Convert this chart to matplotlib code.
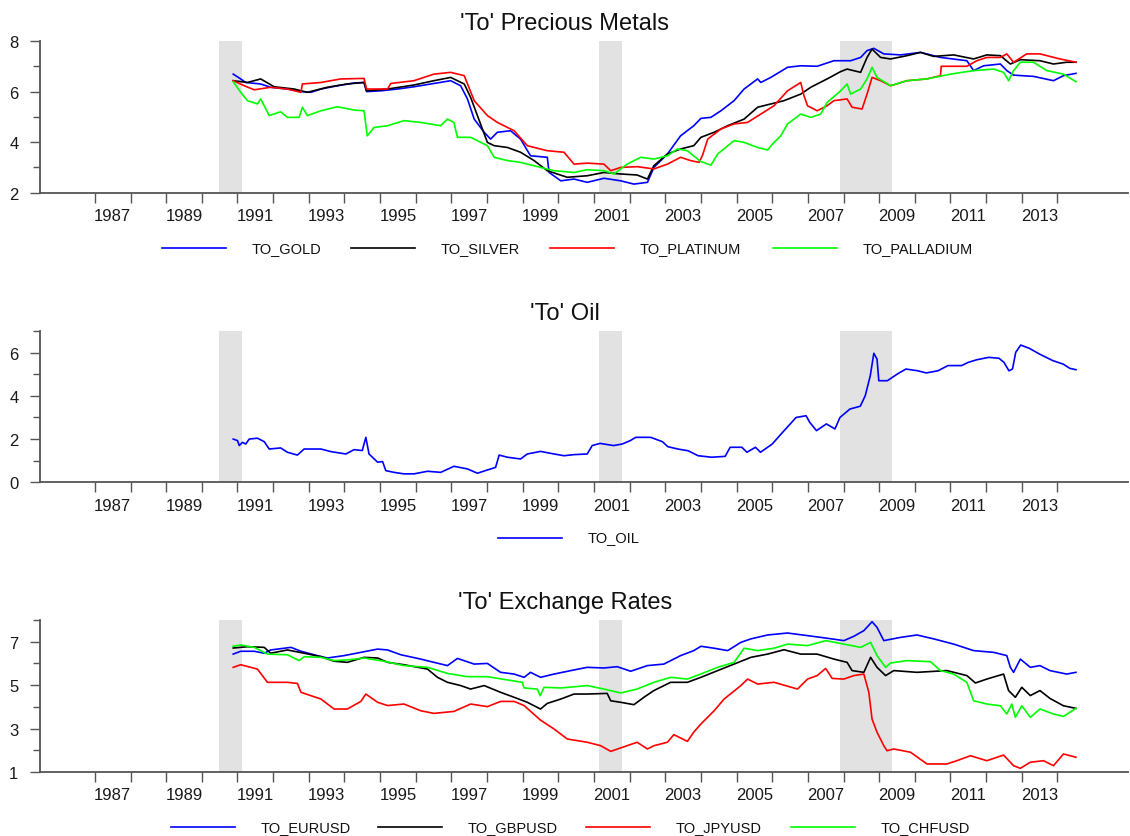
import matplotlib
matplotlib.use("Agg")
import matplotlib.pyplot as plt
from matplotlib.lines import Line2D
from matplotlib.ticker import FixedLocator, FuncFormatter

plt.rcParams['font.family'] = ['Liberation Sans', 'DejaVu Sans']

W, H = 1130, 837

# recession bands (decimal years)
recessions = [(1990.48, 1991.12), (2001.14, 2001.79), (2007.90, 2009.35)]

# ---- 'To' precious metals ----
gold_x = [1990.88, 1991.09, 1991.23, 1991.65, 1991.93, 1992.40, 1992.78, 1993.06, 1993.34, 1993.80,
          1994.27, 1994.55, 1994.62, 1995.02, 1995.49, 1995.95, 1996.51, 1996.98, 1997.26, 1997.45,
          1997.64, 1997.92, 1998.10, 1998.29, 1998.66, 1998.94, 1999.22, 1999.69, 1999.74, 2000.07,
          2000.44, 2000.81, 2001.28, 2001.75, 2002.12, 2002.50, 2002.68, 2003.06, 2003.43, 2003.80,
          2004.00, 2004.28, 2004.56, 2004.93, 2005.21, 2005.59, 2005.68, 2005.96, 2006.43, 2006.80,
          2007.26, 2007.73, 2008.20, 2008.48, 2008.66, 2008.85, 2009.13, 2009.60, 2010.16, 2010.72,
          2011.46, 2011.65, 2011.93, 2012.40, 2012.58, 2012.77, 2013.33, 2013.89, 2014.17, 2014.52]
gold_y = [6.69, 6.50, 6.36, 6.30, 6.17, 6.10, 6.00, 5.97, 6.10, 6.23,
          6.34, 6.36, 6.00, 6.03, 6.10, 6.19, 6.32, 6.43, 6.23, 5.71,
          4.91, 4.39, 4.12, 4.39, 4.45, 4.12, 3.46, 3.40, 2.80, 2.47,
          2.54, 2.41, 2.57, 2.47, 2.34, 2.41, 3.00, 3.53, 4.25, 4.65,
          4.94, 4.98, 5.24, 5.64, 6.10, 6.50, 6.36, 6.56, 6.96, 7.02,
          7.00, 7.22, 7.22, 7.35, 7.62, 7.71, 7.49, 7.45, 7.55, 7.35,
          7.22, 6.83, 7.02, 7.09, 6.83, 6.65, 6.60, 6.43, 6.63, 6.72]

silver_x = [1990.88, 1991.28, 1991.65, 1992.03, 1992.59, 1992.96, 1993.52, 1994.08, 1994.55, 1994.62,
            1995.21, 1995.95, 1996.51, 1996.98, 1997.36, 1997.54, 1997.73, 1998.01, 1998.20, 1998.57,
            1998.94, 1999.32, 1999.69, 2000.25, 2000.81, 2001.28, 2001.75, 2002.21, 2002.50, 2002.68,
            2003.06, 2003.43, 2003.80, 2004.00, 2004.37, 2004.75, 2005.21, 2005.59, 2005.96, 2006.33,
            2006.80, 2007.08, 2007.54, 2007.92, 2008.10, 2008.48, 2008.66, 2008.80, 2009.04, 2009.32,
            2009.78, 2010.16, 2010.53, 2011.09, 2011.65, 2012.02, 2012.40, 2012.68, 2012.96, 2013.51,
            2013.89, 2014.26, 2014.52]
silver_y = [6.43, 6.36, 6.50, 6.19, 6.10, 5.97, 6.17, 6.30, 6.36, 6.03,
            6.10, 6.26, 6.43, 6.56, 6.30, 5.77, 5.05, 3.99, 3.86, 3.79,
            3.60, 3.27, 2.87, 2.61, 2.67, 2.80, 2.74, 2.70, 2.54, 3.07,
            3.53, 3.73, 3.86, 4.19, 4.39, 4.65, 4.91, 5.38, 5.51, 5.64,
            5.90, 6.17, 6.50, 6.79, 6.89, 6.76, 7.35, 7.68, 7.35, 7.29,
            7.42, 7.55, 7.39, 7.45, 7.29, 7.45, 7.42, 7.09, 7.26, 7.22,
            7.09, 7.16, 7.16]

platinum_x = [1990.88, 1991.19, 1991.47, 1991.93, 1992.40, 1992.78, 1992.82, 1993.34, 1993.90, 1994.55,
              1994.62, 1995.21, 1995.30, 1995.95, 1996.51, 1996.98, 1997.36, 1997.64, 1998.01, 1998.29,
              1998.76, 1999.13, 1999.69, 2000.16, 2000.44, 2000.81, 2001.28, 2001.47, 2001.75, 2002.21,
              2002.68, 2003.06, 2003.43, 2003.71, 2003.95, 2004.05, 2004.19, 2004.56, 2004.93, 2005.31,
              2005.68, 2006.05, 2006.43, 2006.80, 2006.89, 2006.99, 2007.26, 2007.54, 2007.73, 2008.10,
              2008.24, 2008.52, 2008.66, 2008.80, 2009.04, 2009.32, 2009.78, 2010.34, 2010.72, 2010.74,
              2011.46, 2011.74, 2012.02, 2012.40, 2012.58, 2012.77, 2013.14, 2013.51, 2014.07, 2014.52]
platinum_y = [6.43, 6.23, 6.07, 6.17, 6.10, 5.97, 6.30, 6.36, 6.50, 6.52,
              6.10, 6.10, 6.32, 6.43, 6.69, 6.76, 6.63, 5.64, 5.05, 4.78,
              4.45, 3.86, 3.66, 3.60, 3.13, 3.17, 3.13, 2.87, 3.00, 3.03,
              2.94, 3.13, 3.40, 3.27, 3.20, 3.50, 4.12, 4.52, 4.72, 4.78,
              5.11, 5.44, 6.03, 6.36, 5.84, 5.44, 5.24, 5.44, 5.64, 5.71,
              5.38, 5.31, 5.90, 6.56, 6.43, 6.23, 6.43, 6.50, 6.63, 7.00,
              7.00, 7.22, 7.35, 7.35, 7.49, 7.16, 7.49, 7.49, 7.29, 7.16]

palladium_x = [1990.88, 1991.09, 1991.28, 1991.56, 1991.65, 1991.89, 1992.21, 1992.40, 1992.73, 1992.82,
               1992.96, 1993.34, 1993.80, 1994.27, 1994.55, 1994.64, 1994.83, 1995.21, 1995.67, 1996.14,
               1996.70, 1996.89, 1997.07, 1997.17, 1997.54, 1998.01, 1998.20, 1998.57, 1998.94, 1999.50,
               1999.88, 2000.44, 2000.81, 2001.28, 2001.56, 2001.93, 2002.31, 2002.68, 2003.06, 2003.34,
               2003.62, 2003.80, 2004.00, 2004.28, 2004.47, 2004.93, 2005.21, 2005.59, 2005.87, 2006.01,
               2006.24, 2006.43, 2006.80, 2007.08, 2007.36, 2007.54, 2007.92, 2008.10, 2008.20, 2008.48,
               2008.66, 2008.80, 2008.94, 2009.32, 2009.78, 2010.34, 2011.00, 2011.65, 2012.21, 2012.49,
               2012.63, 2012.77, 2012.96, 2013.33, 2013.70, 2014.17, 2014.52]
palladium_y = [6.39, 5.97, 5.64, 5.51, 5.71, 5.05, 5.20, 4.98, 4.98, 5.38,
               5.05, 5.24, 5.40, 5.27, 5.24, 4.25, 4.58, 4.65, 4.85, 4.78,
               4.65, 4.91, 4.78, 4.19, 4.19, 3.86, 3.40, 3.27, 3.20, 3.00,
               2.87, 2.80, 2.91, 2.87, 2.74, 3.13, 3.40, 3.33, 3.46, 3.73,
               3.66, 3.45, 3.23, 3.09, 3.53, 4.06, 3.99, 3.79, 3.69, 3.93,
               4.25, 4.72, 5.11, 4.98, 5.11, 5.57, 6.03, 6.30, 5.90, 6.10,
               6.50, 6.96, 6.56, 6.23, 6.43, 6.50, 6.69, 6.83, 6.89, 6.76,
               6.43, 6.83, 7.16, 7.16, 6.83, 6.69, 6.39]

# ---- 'To' oil ----
oil_x = [1990.88, 1991.00, 1991.05, 1991.14, 1991.23, 1991.33, 1991.56, 1991.75, 1991.89, 1992.21,
         1992.40, 1992.68, 1992.87, 1993.34, 1993.62, 1994.04, 1994.27, 1994.50, 1994.60, 1994.69,
         1994.93, 1995.07, 1995.16, 1995.39, 1995.67, 1995.95, 1996.33, 1996.70, 1997.07, 1997.45,
         1997.73, 1998.01, 1998.24, 1998.34, 1998.57, 1998.94, 1999.13, 1999.50, 1999.88, 2000.16,
         2000.44, 2000.81, 2000.95, 2001.17, 2001.55, 2001.79, 2002.02, 2002.17, 2002.59, 2002.92,
         2003.07, 2003.35, 2003.64, 2003.92, 2004.30, 2004.68, 2004.82, 2005.15, 2005.29, 2005.53,
         2005.67, 2006.00, 2006.29, 2006.67, 2006.95, 2007.05, 2007.24, 2007.52, 2007.76, 2007.90,
         2008.18, 2008.47, 2008.61, 2008.75, 2008.85, 2008.94, 2008.99, 2009.23, 2009.51, 2009.75,
         2010.08, 2010.32, 2010.65, 2010.93, 2011.31, 2011.50, 2011.74, 2012.07, 2012.36, 2012.50,
         2012.64, 2012.74, 2012.83, 2012.97, 2013.21, 2013.49, 2013.87, 2014.16, 2014.35, 2014.52]
oil_y = [2.00, 1.93, 1.70, 1.85, 1.77, 2.00, 2.04, 1.88, 1.54, 1.59,
         1.39, 1.26, 1.54, 1.54, 1.42, 1.31, 1.51, 1.47, 2.08, 1.31,
         0.93, 0.96, 0.54, 0.46, 0.39, 0.39, 0.51, 0.46, 0.74, 0.62,
         0.42, 0.57, 0.69, 1.26, 1.16, 1.08, 1.31, 1.43, 1.31, 1.23,
         1.28, 1.31, 1.70, 1.80, 1.70, 1.77, 1.93, 2.08, 2.08, 1.88,
         1.65, 1.54, 1.46, 1.23, 1.16, 1.20, 1.62, 1.62, 1.39, 1.62,
         1.39, 1.77, 2.31, 3.00, 3.08, 2.78, 2.39, 2.70, 2.47, 3.00,
         3.39, 3.52, 4.01, 4.93, 5.97, 5.70, 4.70, 4.70, 5.01, 5.24,
         5.16, 5.06, 5.16, 5.40, 5.40, 5.55, 5.67, 5.78, 5.74, 5.55,
         5.16, 5.24, 6.01, 6.35, 6.20, 5.94, 5.63, 5.47, 5.27, 5.21]

# ---- 'To' exchange rates ----
eur_x = [1990.88, 1991.09, 1991.47, 1991.75, 1991.93, 1992.50, 1992.78, 1993.24, 1993.52, 1993.99,
         1994.46, 1994.93, 1995.21, 1995.58, 1996.14, 1996.51, 1996.89, 1997.17, 1997.64, 1998.01,
         1998.38, 1998.76, 1999.04, 1999.22, 1999.50, 1999.88, 2000.35, 2000.81, 2001.28, 2001.65,
         2002.03, 2002.50, 2002.96, 2003.43, 2003.80, 2004.00, 2004.37, 2004.75, 2005.12, 2005.40,
         2005.87, 2006.43, 2006.99, 2007.54, 2008.01, 2008.29, 2008.57, 2008.80, 2008.94, 2009.13,
         2009.60, 2010.06, 2010.53, 2011.09, 2011.65, 2012.21, 2012.58, 2012.68, 2012.77, 2012.96,
         2013.24, 2013.51, 2013.79, 2014.26, 2014.52]
eur_y = [6.43, 6.56, 6.56, 6.47, 6.62, 6.74, 6.56, 6.36, 6.25, 6.36,
         6.51, 6.66, 6.62, 6.40, 6.20, 6.05, 5.90, 6.23, 5.97, 6.00,
         5.59, 5.51, 5.36, 5.59, 5.36, 5.51, 5.67, 5.82, 5.79, 5.85,
         5.64, 5.90, 5.97, 6.36, 6.59, 6.79, 6.70, 6.59, 6.97, 7.13,
         7.31, 7.40, 7.28, 7.16, 7.05, 7.25, 7.51, 7.92, 7.66, 7.05,
         7.20, 7.31, 7.13, 6.89, 6.59, 6.51, 6.36, 5.82, 5.59, 6.20,
         5.82, 5.90, 5.67, 5.51, 5.59]

gbp_x = [1990.88, 1991.28, 1991.75, 1991.93, 1992.40, 1992.87, 1993.34, 1993.71, 1994.08, 1994.55,
         1994.93, 1995.21, 1995.67, 1996.33, 1996.61, 1996.89, 1997.26, 1997.54, 1997.92, 1998.38,
         1998.76, 1999.13, 1999.50, 1999.69, 2000.07, 2000.44, 2000.81, 2001.37, 2001.47, 2001.75,
         2002.12, 2002.40, 2002.68, 2003.15, 2003.62, 2004.00, 2004.47, 2004.93, 2005.40, 2005.87,
         2006.33, 2006.80, 2007.26, 2007.73, 2008.10, 2008.24, 2008.57, 2008.76, 2008.94, 2009.18,
         2009.41, 2010.06, 2010.90, 2011.46, 2011.70, 2012.02, 2012.49, 2012.63, 2012.82, 2013.00,
         2013.24, 2013.51, 2013.79, 2014.17, 2014.52]
gbp_y = [6.71, 6.77, 6.74, 6.47, 6.62, 6.47, 6.31, 6.10, 6.05, 6.28,
         6.25, 6.05, 5.94, 5.74, 5.36, 5.13, 4.98, 4.82, 4.98, 4.67,
         4.44, 4.21, 3.90, 4.16, 4.36, 4.59, 4.59, 4.62, 4.28, 4.21,
         4.10, 4.44, 4.75, 5.13, 5.13, 5.36, 5.67, 5.97, 6.28, 6.43,
         6.63, 6.43, 6.43, 6.20, 6.05, 5.67, 5.59, 6.28, 5.82, 5.44,
         5.67, 5.59, 5.67, 5.44, 5.10, 5.28, 5.51, 4.75, 4.44, 4.90,
         4.52, 4.75, 4.39, 4.05, 3.93]

jpy_x = [1990.88, 1991.09, 1991.56, 1991.84, 1992.40, 1992.68, 1992.78, 1993.34, 1993.71, 1994.08,
         1994.46, 1994.60, 1994.93, 1995.21, 1995.67, 1996.14, 1996.51, 1997.07, 1997.54, 1998.01,
         1998.38, 1998.76, 1999.04, 1999.50, 1999.88, 2000.25, 2000.81, 2001.19, 2001.47, 2001.75,
         2002.21, 2002.50, 2002.68, 2003.06, 2003.24, 2003.62, 2003.80, 2004.00, 2004.37, 2004.65,
         2005.12, 2005.31, 2005.59, 2006.05, 2006.71, 2006.99, 2007.26, 2007.50, 2007.68, 2008.01,
         2008.29, 2008.57, 2008.71, 2008.80, 2008.94, 2009.13, 2009.22, 2009.41, 2009.88, 2010.34,
         2010.90, 2011.18, 2011.56, 2012.02, 2012.49, 2012.77, 2012.96, 2013.24, 2013.61, 2013.89,
         2014.17, 2014.52]
jpy_y = [5.82, 5.94, 5.74, 5.13, 5.13, 5.08, 4.67, 4.36, 3.90, 3.90,
         4.25, 4.59, 4.21, 4.06, 4.13, 3.82, 3.70, 3.79, 4.13, 4.01,
         4.25, 4.25, 4.06, 3.39, 2.98, 2.52, 2.37, 2.21, 1.95, 2.11,
         2.37, 2.06, 2.21, 2.37, 2.72, 2.41, 2.84, 3.21, 3.82, 4.36,
         4.98, 5.28, 5.05, 5.13, 4.82, 5.28, 5.44, 5.77, 5.31, 5.28,
         5.44, 5.51, 4.67, 3.44, 2.83, 2.21, 1.98, 2.06, 1.91, 1.37,
         1.37, 1.52, 1.75, 1.52, 1.78, 1.29, 1.17, 1.45, 1.52, 1.29,
         1.83, 1.68]

chf_x = [1990.88, 1991.09, 1991.47, 1991.84, 1992.40, 1992.73, 1992.87, 1993.34, 1993.71, 1994.08,
         1994.55, 1995.11, 1995.67, 1996.33, 1996.89, 1997.45, 1998.01, 1998.57, 1998.99, 1999.04,
         1999.41, 1999.49, 1999.60, 2000.07, 2000.81, 2001.28, 2001.75, 2002.21, 2002.68, 2003.15,
         2003.62, 2003.99, 2004.47, 2004.93, 2005.21, 2005.59, 2006.05, 2006.43, 2006.99, 2007.50,
         2008.01, 2008.48, 2008.76, 2008.94, 2009.18, 2009.32, 2009.78, 2010.44, 2010.72, 2011.09,
         2011.46, 2011.65, 2012.02, 2012.40, 2012.58, 2012.72, 2012.82, 2013.00, 2013.24, 2013.51,
         2013.89, 2014.17, 2014.52]
chf_y = [6.79, 6.85, 6.74, 6.43, 6.40, 6.13, 6.31, 6.28, 6.13, 6.16,
         6.25, 6.10, 5.90, 5.82, 5.54, 5.39, 5.39, 5.24, 5.13, 4.87,
         4.82, 4.51, 4.90, 4.87, 4.98, 4.82, 4.64, 4.82, 5.13, 5.36,
         5.28, 5.51, 5.82, 6.05, 6.70, 6.59, 6.70, 6.89, 6.82, 7.05,
         6.89, 6.74, 6.97, 6.36, 5.82, 6.02, 6.13, 6.08, 5.67, 5.51,
         5.13, 4.28, 4.13, 4.05, 3.67, 4.13, 3.52, 4.05, 3.52, 3.90,
         3.67, 3.56, 3.93]

BLUE, BLACK, RED, GREEN = '#0000FF', '#000000', '#FF0000', '#00FF00'

panels = [
    {'title': "'To' Precious Metals", 'ylim': (2, 8), 'labels': [2, 4, 6, 8],
     'series': [(gold_x, gold_y, BLUE, 'TO_GOLD'), (silver_x, silver_y, BLACK, 'TO_SILVER'),
                (platinum_x, platinum_y, RED, 'TO_PLATINUM'), (palladium_x, palladium_y, GREEN, 'TO_PALLADIUM')],
     'top': 42, 'bottom': 193.7, 'title_y': 30, 'leg_y': 249, 'leg_x': [162, 351, 550, 773]},
    {'title': "'To' Oil", 'ylim': (0, 7), 'labels': [0, 2, 4, 6],
     'series': [(oil_x, oil_y, BLUE, 'TO_OIL')],
     'top': 332, 'bottom': 483.3, 'title_y': 320, 'leg_y': 538.5, 'leg_x': [498]},
    {'title': "'To' Exchange Rates", 'ylim': (1, 8), 'labels': [1, 3, 5, 7],
     'series': [(eur_x, eur_y, BLUE, 'TO_EURUSD'), (gbp_x, gbp_y, BLACK, 'TO_GBPUSD'),
                (jpy_x, jpy_y, RED, 'TO_JPYUSD'), (chf_x, chf_y, GREEN, 'TO_CHFUSD')],
     'top': 621, 'bottom': 773, 'title_y': 609.5, 'leg_y': 828, 'leg_x': [171, 378, 586, 791]},
]

fig = plt.figure(figsize=(W / 100, H / 100), dpi=100)

AX_LEFT, AX_RIGHT = 40, 1128
SPINE = '#555555'

for p in panels:
    ax = fig.add_axes([AX_LEFT / W, 1 - p['bottom'] / H,
                       (AX_RIGHT - AX_LEFT) / W, (p['bottom'] - p['top']) / H])
    for a, b in recessions:
        ax.axvspan(a, b, color='#E2E2E2', lw=0, zorder=0)
    for xs, ys, c, name in p['series']:
        ax.plot(xs, ys, color=c, lw=1.2, zorder=2)

    ax.set_xlim(1985.46, 2015.98)
    ax.set_ylim(*p['ylim'])

    for s in ['top', 'right']:
        ax.spines[s].set_visible(False)
    for s in ['left', 'bottom']:
        ax.spines[s].set_color(SPINE)
        ax.spines[s].set_linewidth(1.3)

    # x: year ticks unlabeled, labels centred between ticks
    ax.xaxis.set_major_locator(FixedLocator(range(1987, 2015)))
    ax.xaxis.set_major_formatter(FuncFormatter(lambda v, pos: ''))
    ax.xaxis.set_minor_locator(FixedLocator([y + 0.5 for y in range(1987, 2014, 2)]))
    ax.xaxis.set_minor_formatter(FuncFormatter(lambda v, pos: str(int(v))))
    ax.tick_params(axis='x', which='major', length=7.5, width=1, color=SPINE, direction='out')
    ax.tick_params(axis='x', which='minor', length=0, pad=11, labelsize=12, labelcolor='#1a1a1a')

    lo, hi = p['ylim']
    ax.yaxis.set_major_locator(FixedLocator(p['labels']))
    ax.yaxis.set_minor_locator(FixedLocator([v for v in range(lo, hi + 1) if v not in p['labels']]))
    ax.tick_params(axis='y', which='major', length=7.5, width=1, color=SPINE, pad=8,
                   labelsize=12, labelcolor='#1a1a1a')
    ax.tick_params(axis='y', which='minor', length=5, width=1, color=SPINE)

    fig.text(0.5, 1 - p['title_y'] / H, p['title'], ha='center', va='baseline',
             fontsize=17, color='#111111')

    # legend row below the axis
    ly = 1 - p['leg_y'] / H
    for x0, (xs, ys, c, name) in zip(p['leg_x'], p['series']):
        fig.add_artist(Line2D([x0 / W, (x0 + 64) / W], [ly, ly], color=c, lw=1.2))
        fig.text((x0 + 90) / W, 1 - (p['leg_y'] + 3.7) / H, name, ha='left', va='baseline',
                 fontsize=10.5, color='#111111')

fig.savefig('out.png', dpi=100)
